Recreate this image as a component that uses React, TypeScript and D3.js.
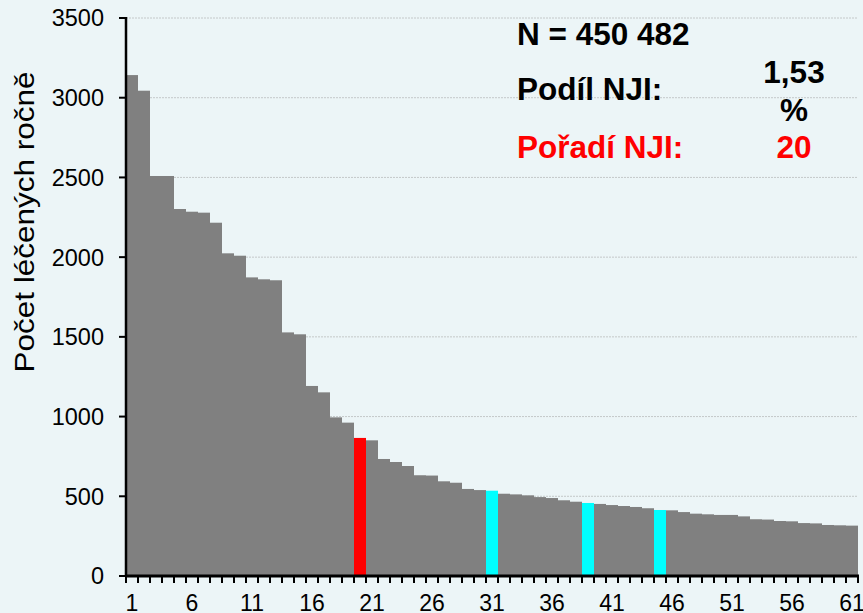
import React from 'react';
import * as d3 from 'd3';

// počet léčených ročně podle pracoviště (seřazeno sestupně)
const ranks = d3.range(1, 62);
const patients = [
  3142, 3044, 2509, 2509, 2302, 2285, 2279, 2216, 2024, 2009,
  1873, 1861, 1855, 1528, 1516, 1192, 1152, 995, 962, 866,
  851, 734, 715, 690, 632, 630, 594, 585, 546, 539,
  535, 516, 512, 506, 495, 489, 475, 466, 458, 452,
  445, 439, 433, 425, 414, 412, 401, 391, 387, 383,
  383, 374, 356, 354, 345, 343, 332, 330, 320, 318, 316,
];
const redRanks = [20];
const cyanRanks = [31, 39, 45];
const yTicks = [0, 500, 1000, 1500, 2000, 2500, 3000, 3500];
const xLabelRanks = [1, 6, 11, 16, 21, 26, 31, 36, 41, 46, 51, 56, 61];

const W = 863;
const H = 613;
const FONT = '"Liberation Sans", Arial, sans-serif';

export default function App() {
  const x = d3.scaleBand<number>().domain(ranks).range([126, 858]).padding(0);
  const y = d3.scaleLinear().domain([0, 3500]).range([576, 18]);

  const barColor = (r: number) =>
    redRanks.includes(r) ? '#ff0000' : cyanRanks.includes(r) ? '#00ffff' : '#808080';

  const edges = ranks.map(r => x(r)!).concat([x.range()[1]]);

  return (
    <svg
      width={W}
      height={H}
      style={{ position: 'fixed', left: 0, top: 0, display: 'block', background: '#ecf5f7' }}
      fontFamily={FONT}
    >
      <rect width={W} height={H} fill="#ecf5f7" />

      {/* grid */}
      {yTicks.filter(t => t > 0).map(t => (
        <line key={t} x1={126} x2={858} y1={y(t)} y2={y(t)} stroke="#c4c8c9" strokeWidth={1} strokeDasharray="2,1" />
      ))}

      {/* bars */}
      {ranks.map((r, i) => (
        <rect
          key={r}
          x={x(r)}
          y={y(patients[i])}
          width={x.bandwidth()}
          height={y(0) - y(patients[i])}
          fill={barColor(r)}
        />
      ))}

      {/* y axis */}
      <line x1={126} x2={126} y1={17} y2={577} stroke="#000" strokeWidth={2.5} />
      {yTicks.map(t => (
        <g key={t}>
          <line x1={119} x2={126} y1={y(t)} y2={y(t)} stroke="#000" strokeWidth={2} />
          <text x={104} y={y(t)} dy="0.36em" textAnchor="end" fontSize={23.5} fill="#000">{t}</text>
        </g>
      ))}

      {/* x axis */}
      <line x1={125} x2={859} y1={576} y2={576} stroke="#000" strokeWidth={3} />
      {edges.map((e, i) => (
        <line key={i} x1={e} x2={e} y1={576} y2={583} stroke="#000" strokeWidth={2} />
      ))}
      {xLabelRanks.map(r => (
        <text key={r} x={x(r)! + x.bandwidth() / 2} y={611} textAnchor="middle" fontSize={23} fill="#000">{r}</text>
      ))}

      <text
        transform="translate(34,222) rotate(-90)"
        textAnchor="middle"
        fontSize={28}
        textLength={301}
        lengthAdjust="spacingAndGlyphs"
        fill="#000"
      >
        Počet léčených ročně
      </text>

      {/* info box */}
      <g fontWeight="bold" fontSize={31.5}>
        <text x={517} y={45} fill="#000">N = 450 482</text>
        <text x={517} y={100} fill="#000">Podíl NJI:</text>
        <text x={794} y={83} textAnchor="middle" fill="#000">1,53</text>
        <text x={794} y={121} textAnchor="middle" fill="#000">%</text>
        <text x={517} y={158} fill="#ff0000">Pořadí NJI:</text>
        <text x={794} y={158} textAnchor="middle" fill="#ff0000">20</text>
      </g>
    </svg>
  );
}
